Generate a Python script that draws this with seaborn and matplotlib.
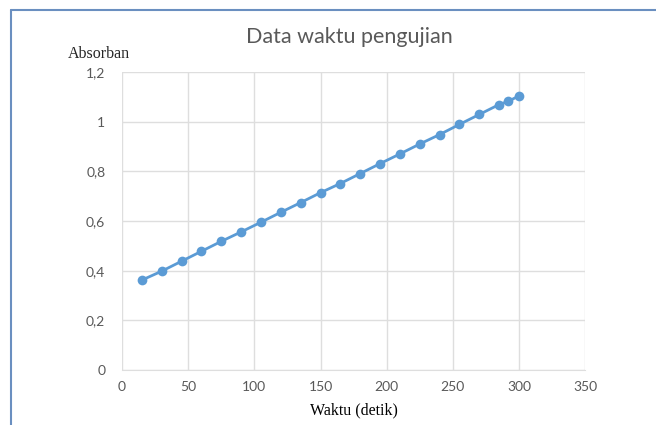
import pandas as pd
import matplotlib
matplotlib.use('Agg')
import matplotlib.pyplot as plt
import seaborn as sns

# data
waktu = [15, 30, 45, 60, 75, 90, 105, 120, 135, 150, 165, 180, 195, 210,
         225, 240, 255, 270, 285, 292, 300]
absorban = [0.362, 0.398, 0.438, 0.478, 0.518, 0.556, 0.595, 0.635, 0.674,
            0.714, 0.751, 0.791, 0.831, 0.870, 0.910, 0.948, 0.989, 1.029,
            1.069, 1.082, 1.104]
x_ticks = [0, 50, 100, 150, 200, 250, 300, 350]
y_ticks = [0, 0.2, 0.4, 0.6, 0.8, 1.0, 1.2]
y_tick_labels = ['0', '0,2', '0,4', '0,6', '0,8', '1', '1,2']

df = pd.DataFrame({'Waktu': waktu, 'Absorban': absorban})

sns.set_style('white')
line_color = '#5b9bd5'
grid_color = '#dedede'
tick_color = '#595959'

fig = plt.figure(figsize=(6.56, 4.25), dpi=100)
ax = fig.add_axes([0.186, 0.1294, 0.706, 0.7012])

sns.lineplot(data=df, x='Waktu', y='Absorban', ax=ax, color=line_color,
             linewidth=2, marker='o', markersize=7, markeredgewidth=0)

ax.set_xlim(0, 350)
ax.set_ylim(0, 1.2)
ax.set_xticks(x_ticks)
ax.set_yticks(y_ticks)
ax.set_yticklabels(y_tick_labels)
ax.grid(True, color=grid_color, linewidth=1)
ax.set_axisbelow(True)
for side in ['top', 'right', 'left']:
    ax.spines[side].set_visible(False)
ax.spines['bottom'].set_color(grid_color)
ax.tick_params(axis='both', length=0, labelsize=10, colors=tick_color, pad=8)
for lab in ax.get_xticklabels() + ax.get_yticklabels():
    lab.set_family('Lato')
ax.tick_params(axis='y', pad=12)

ax.set_xlabel('Waktu (detik)', family='Liberation Serif', fontsize=11.5,
              color='black', labelpad=7)
ax.set_ylabel('')
fig.text(0.103, 0.873, 'Absorban', family='Liberation Serif', fontsize=11.5,
         ha='left', va='center')
fig.text(0.532, 0.912, 'Data waktu pengujian', family='Lato', fontsize=15.5,
         color=tick_color, ha='center', va='center')

# chart area border (only top and left edges visible in the crop)
fig.add_artist(plt.Line2D([0.0168, 0.0168], [0, 0.977], color='#6a8fc0',
                          linewidth=1.5, transform=fig.transFigure))
fig.add_artist(plt.Line2D([0.0168, 1.0], [0.977, 0.977], color='#6a8fc0',
                          linewidth=1.5, transform=fig.transFigure))

fig.savefig('out.png', dpi=100)
